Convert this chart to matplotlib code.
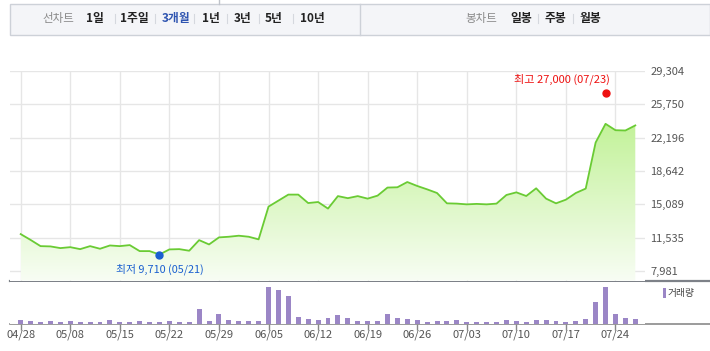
import numpy as np
import matplotlib
matplotlib.use("Agg")
import matplotlib.pyplot as plt
from matplotlib.lines import Line2D
from matplotlib.patches import Rectangle
from matplotlib.colors import LinearSegmentedColormap

plt.rcParams['font.family'] = ['Noto Sans CJK KR', 'DejaVu Sans']

# ---------------- data ----------------
close_price = [11930, 11310, 10650, 10620, 10440, 10540, 10330, 10650, 10370, 10720,
               10650, 10760, 10120, 10120, 9760, 10300, 10330, 10160, 11290, 10830,
               11580, 11650, 11760, 11650, 11370, 14860, 15500, 16140, 16140, 15240,
               15350, 14650, 15980, 15760, 15980, 15710, 16030, 16890, 16920, 17480,
               17060, 16700, 16310, 15210, 15180, 15100, 15150, 15100, 15180, 16100,
               16380, 15990, 16810, 15710, 15210, 15600, 16310, 16780, 21690, 23680,
               23000, 22970, 23510]
volume = [100, 70, 40, 70, 40, 70, 40, 40, 40, 100,
          40, 40, 70, 40, 40, 70, 40, 40, 440, 70,
          290, 100, 70, 70, 70, 1090, 1010, 830, 200, 130,
          100, 170, 250, 170, 70, 70, 70, 280, 170, 130,
          100, 40, 70, 70, 100, 40, 40, 40, 40, 100,
          70, 40, 100, 100, 70, 40, 70, 130, 640, 1090,
          280, 170, 130]
tick_idx = [0, 5, 10, 15, 20, 25, 30, 35, 40, 45, 50, 55, 60]
tick_labels = ['04/28', '05/08', '05/15', '05/22', '05/29', '06/05', '06/12',
               '06/19', '06/26', '07/03', '07/10', '07/17', '07/24']
y_ticks = [7981, 11535, 15089, 18642, 22196, 25750, 29304]
y_tick_labels = ['7,981', '11,535', '15,089', '18,642', '22,196', '25,750', '29,304']
high_idx, high_val, high_label = 59, 27000, '최고 27,000 (07/23)'
low_idx, low_val, low_label = 14, 9710, '최저 9,710 (05/21)'
menu_left = ['1일', '1주일', '3개월', '1년', '3년', '5년', '10년']
menu_left_x = [95, 134, 176, 211, 243, 274, 312]
menu_right = ['일봉', '주봉', '월봉']
menu_right_x = [521, 555, 590]

# ---------------- layout helpers ----------------
W, H = 710, 351
fig = plt.figure(figsize=(W / 100, H / 100), dpi=100)


def fx(x):
    return x / W


def fy(y):
    return 1 - y / H


def px_axes(x0, y0, x1, y1):
    return fig.add_axes([fx(x0), fy(y1), (x1 - x0) / W, (y1 - y0) / H])


# header box
hdr = fig.add_axes([0, 0, 1, 1], zorder=-1)
hdr.set_xlim(0, W)
hdr.set_ylim(H, 0)
hdr.set_autoscale_on(False)
hdr.axis('off')
hdr.add_patch(Rectangle((10, 4), 700, 31, facecolor='#f4f5f8', edgecolor='#cdd1d8', lw=1))
hdr.add_line(Line2D([360, 360], [4, 35], color='#cdd1d8', lw=1))
fig.add_artist(Line2D([fx(219.5), fx(219.5)], [fy(0), fy(3.5)], transform=fig.transFigure,
                      color='#bfc3ca', lw=1))
hdr.text(58, 18.5, '선차트', ha='center', va='center', fontsize=8.3, color='#8a8a8a')
for i, (t, xx) in enumerate(zip(menu_left, menu_left_x)):
    col = '#2f55b0' if t == '3개월' else '#222222'
    hdr.text(xx, 18.5, t, ha='center', va='center', fontsize=8.5, color=col, fontweight='bold')
    if i < len(menu_left) - 1:
        sx = (xx + menu_left_x[i + 1]) / 2
        hdr.add_line(Line2D([sx, sx], [14, 23], color='#d5d8de', lw=0.8))
hdr.text(481, 18.5, '봉차트', ha='center', va='center', fontsize=8.3, color='#8a8a8a')
for i, (t, xx) in enumerate(zip(menu_right, menu_right_x)):
    hdr.text(xx, 18.5, t, ha='center', va='center', fontsize=8.5, color='#222222', fontweight='bold')
    if i < len(menu_right) - 1:
        sx = (xx + menu_right_x[i + 1]) / 2
        hdr.add_line(Line2D([sx, sx], [14, 23], color='#d5d8de', lw=0.8))

# bottom separator lines spanning full width
hdr.add_line(Line2D([10, 710], [280.5, 280.5], color='#7d8188', lw=1.6))
hdr.add_line(Line2D([10, 710], [323.5, 323.5], color='#8a8a8a', lw=1.2))

# ---------------- price axes ----------------
n = len(close_price)
x = np.arange(n)
xlim = (-1.08, 62.98)
ymin, ymax = 6988, 29330

ax = px_axes(10, 70.8, 645, 280.5)
ax.set_xlim(*xlim)
ax.set_ylim(ymin, ymax)
for s in ax.spines.values():
    s.set_visible(False)
ax.set_xticks(tick_idx)
ax.set_xticklabels([])
ax.tick_params(axis='x', length=0)
ax.yaxis.tick_right()
ax.set_yticks(y_ticks)
ax.set_yticklabels(y_tick_labels)
ax.tick_params(axis='y', length=0, pad=4, labelsize=8, labelcolor='#555555')
ax.grid(True, color='#e6e6e6', lw=1)
ax.set_axisbelow(True)

poly = ax.fill_between(x, close_price, ymin, facecolor='none', edgecolor='none')
cmap = LinearSegmentedColormap.from_list('g', ['#f8fdf4', '#c3f29a'])
grad = np.linspace(0, 1, 256).reshape(-1, 1)
top = max(close_price)
im = ax.imshow(grad, extent=[x[0], x[-1], ymin, top], origin='lower', aspect='auto',
               cmap=cmap, zorder=1)
im.set_clip_path(poly.get_paths()[0], transform=ax.transData)
ax.set_xlim(*xlim)
ax.set_ylim(ymin, ymax)
ax.plot(x, close_price, color='#6acb34', lw=1.3, zorder=3)

ax.plot([high_idx], [high_val], 'o', color='#ee1111', ms=5, zorder=4, clip_on=False)
ax.annotate(high_label, (high_idx, high_val), xytext=(3, 9.5), textcoords='offset points',
            ha='right', va='center', fontsize=8, color='#ee1111', annotation_clip=False)
ax.plot([low_idx], [low_val], 'o', color='#1a5fd0', ms=5, zorder=4)
ax.annotate(low_label, (low_idx, low_val), xytext=(0, -6), textcoords='offset points',
            ha='center', va='top', fontsize=7.8, color='#1a5fd0')

# ---------------- volume axes ----------------
vmax = max(volume)
ax2 = px_axes(10, 281.5, 645, 323.5)
ax2.set_xlim(*xlim)
ax2.set_ylim(0, vmax * 42.0 / 36.3)
ax2.bar(x, volume, width=0.5, color='#9b86c6', zorder=2)
for s in ax2.spines.values():
    s.set_visible(False)
ax2.set_yticks([])
ax2.set_xticks(tick_idx)
ax2.set_xticklabels(tick_labels)
ax2.tick_params(axis='x', direction='out', length=4, width=1, color='#888888',
                pad=0.5, labelsize=8, labelcolor='#555555')

# legend for volume
hdr.add_patch(Rectangle((662.5, 288), 3, 10, facecolor='#9b86c6', edgecolor='none'))
hdr.text(668, 293, '거래량', ha='left', va='center', fontsize=7, color='#444444')

fig.savefig('out.png', dpi=100)
